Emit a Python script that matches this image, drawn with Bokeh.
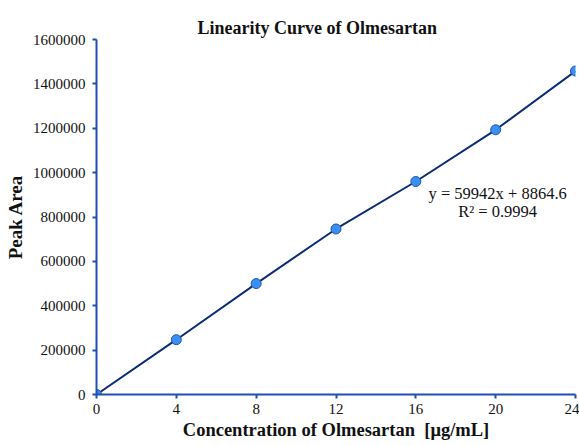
from bokeh.plotting import figure
from bokeh.models import Range1d, SingleIntervalTicker, NumeralTickFormatter, Label
from bokeh.embed import file_html
from bokeh.resources import INLINE

conc = [0, 4, 8, 12, 16, 20, 24]
area = [0, 247000, 500000, 746000, 960000, 1193000, 1458000]
eq_text = "y = 59942x + 8864.6"
r2_text = "R² = 0.9994"

FONT = "Liberation Serif"
AXIS_COLOR = "#1f4fb4"
LINE_COLOR = "#0b2c74"

p = figure(width=579, height=445, output_backend="svg", toolbar_location=None,
           x_range=Range1d(0, 24), y_range=Range1d(0, 1600000),
           min_border_left=96, min_border_right=4, min_border_top=39, min_border_bottom=51)

p.title.text = "Linearity Curve of Olmesartan"
p.title.text_font = FONT
p.title.text_font_size = "18px"
p.title.text_font_style = "bold"
p.title.align = "left"
p.title.offset = 101
p.title.standoff = 4
p.title.text_color = "#111111"

p.grid.visible = False
p.outline_line_color = None

for ax in (p.xaxis[0], p.yaxis[0]):
    ax.axis_line_color = AXIS_COLOR
    ax.axis_line_width = 2
    ax.major_tick_line_color = AXIS_COLOR
    ax.major_tick_line_width = 2
    ax.major_tick_out = 4
    ax.major_tick_in = 0
    ax.minor_tick_line_color = None
    ax.major_label_text_font = FONT
    ax.major_label_text_font_size = "15px"
    ax.major_label_text_color = "#111111"
    ax.axis_label_text_font = FONT
    ax.axis_label_text_font_style = "bold"
    ax.axis_label_text_color = "#111111"

p.xaxis.ticker = SingleIntervalTicker(interval=4)
p.yaxis.ticker = SingleIntervalTicker(interval=200000)
p.yaxis.formatter = NumeralTickFormatter(format="0")
p.xaxis.axis_label = "Concentration of Olmesartan\u00a0\u00a0[μg/mL]"
p.yaxis.axis_label = "Peak Area"
p.xaxis.axis_label_text_font_size = "18.5px"
p.yaxis.axis_label_text_font_size = "19px"
p.xaxis.major_label_standoff = 5
p.yaxis.major_label_standoff = 7
p.xaxis.axis_label_standoff = 3
p.yaxis.axis_label_standoff = 4

p.line(conc, area, line_color=LINE_COLOR, line_width=2)
p.scatter(conc, area, size=10, fill_color="#3a8ff0", line_color="#1c55b0", line_width=1)

p.add_layout(Label(x=20.1, y=905000, text=eq_text, text_font=FONT, text_font_size="16.5px",
                   text_color="#111111", text_align="center", text_baseline="middle"))
p.add_layout(Label(x=20.1, y=824000, text=r2_text, text_font=FONT, text_font_size="16.5px",
                   text_color="#111111", text_align="center", text_baseline="middle"))

open("out.html", "w").write(file_html(p, INLINE))
